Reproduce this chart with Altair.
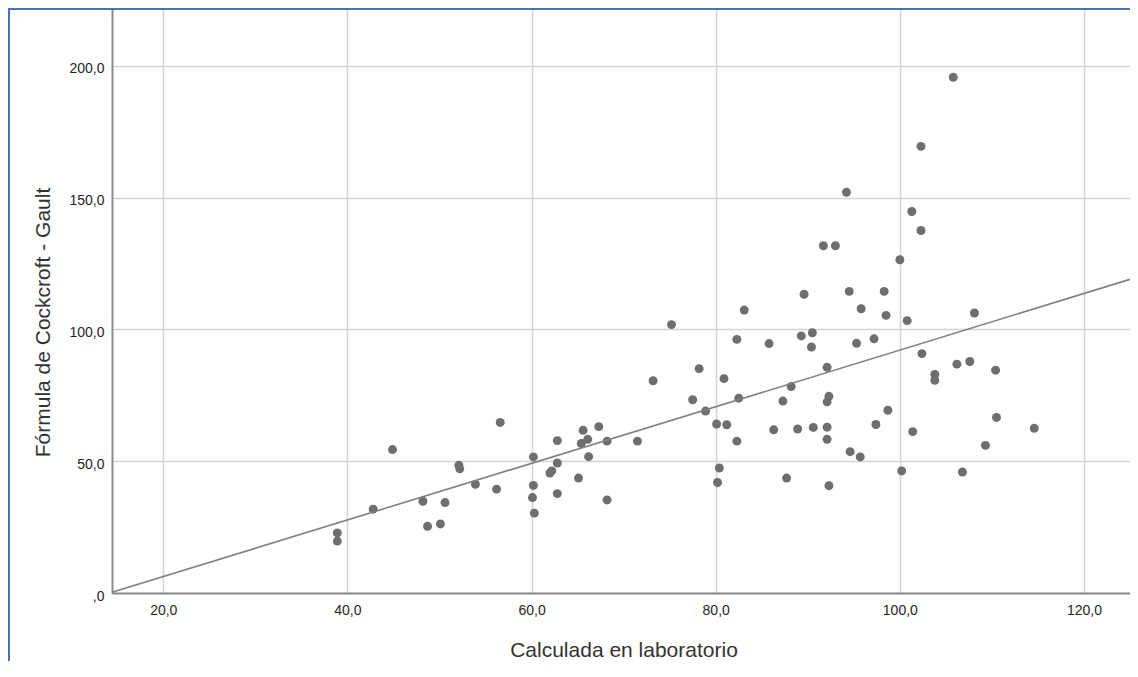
import altair as alt
import pandas as pd

# Values
lab = [38.9, 38.9, 42.8, 44.9, 48.2, 48.7, 50.1, 50.6, 52.1, 52.2, 53.9, 56.2, 56.6,
       60.2, 60.2, 60.1, 60.3, 62.8, 62.8, 62.0, 62.2, 62.8,
       82.3, 85.8, 89.3, 90.5, 90.4, 78.2, 73.2, 80.9, 77.5, 82.5, 88.2, 87.3, 78.9,
       80.1, 81.2, 82.3, 86.3, 88.9, 90.6, 65.6, 67.3, 66.1, 65.4, 68.2, 71.5, 66.2,
       65.1, 68.2, 80.4, 80.2, 87.7,
       95.3, 97.2, 92.1, 102.4, 106.2, 107.6, 110.4, 103.8, 103.8, 92.3, 92.1, 98.7,
       97.4, 92.1, 92.1, 101.4, 110.5, 114.6, 109.3, 94.6, 95.7, 100.2, 106.8, 92.3,
       75.2, 83.1, 89.6,
       94.2, 101.3, 102.3, 91.7, 93.0, 100.0, 94.5, 98.3, 95.8, 98.5, 100.8, 108.1,
       105.8, 102.3]
cg = [22.8, 19.7, 31.8, 54.4, 34.8, 25.3, 26.2, 34.3, 48.5, 47.1, 41.2, 39.4, 64.7,
      51.6, 40.8, 36.2, 30.3, 57.8, 49.3, 45.5, 46.3, 37.7,
      96.2, 94.6, 97.5, 98.7, 93.3, 85.1, 80.5, 81.3, 73.3, 73.9, 78.3, 72.8, 69.0,
      64.1, 63.8, 57.6, 61.9, 62.2, 62.8, 61.7, 63.1, 58.3, 56.7, 57.6, 57.6, 51.7,
      43.6, 35.3, 47.4, 41.9, 43.6,
      94.7, 96.4, 85.6, 90.8, 86.8, 87.8, 84.5, 82.9, 80.7, 74.6, 72.5, 69.3,
      63.9, 62.9, 58.3, 61.2, 66.6, 62.5, 56.0, 53.6, 51.6, 46.3, 45.9, 40.7,
      101.8, 107.3, 113.3,
      152.0, 144.7, 137.5, 131.7, 131.7, 126.4, 114.4, 114.4, 107.8, 105.3, 103.3, 106.2,
      195.6, 169.4]

x_ticks = [20, 40, 60, 80, 100, 120]
y_ticks = [0, 50, 100, 150, 200]
x_title = "Calculada en laboratorio"
y_title = "Fórmula de Cockcroft - Gault"

x_domain = [14.43, 125.0]
y_domain = [0, 221.5]

df = pd.DataFrame({"lab": lab, "cg": cg})

FONT = "Liberation Sans, Arial, sans-serif"
label_expr = "datum.value == 0 ? ',0' : replace(format(datum.value, '.1f'), '.', ',')"

xscale = alt.Scale(domain=x_domain, nice=False, zero=False)
yscale = alt.Scale(domain=y_domain, nice=False, zero=False)

xaxis = alt.Axis(values=x_ticks, labelExpr=label_expr, title=x_title, ticks=False,
                 labelPadding=10, labelFontSize=14, labelColor="#262626", labelFont=FONT,
                 titleFont=FONT, titleFontSize=21, titleFontWeight="normal", titleColor="#333333",
                 titleBaseline="alphabetic", titleY=63.5, titleX=511.5,
                 domainColor="#8c8c8c", domainWidth=2, gridColor="#d4d4d4", gridWidth=1.5)
yaxis = alt.Axis(values=y_ticks, labelExpr=label_expr, title=y_title, ticks=False,
                 labelPadding=8, labelFontSize=14, labelColor="#262626", labelFont=FONT,
                 labelOffset=3,
                 titleFont=FONT, titleFontSize=21, titleFontWeight="normal", titleColor="#333333",
                 titleBaseline="alphabetic", titleX=-63, titleY=313, titleAngle=-90,
                 domainColor="#8c8c8c", domainWidth=2, gridColor="#d4d4d4", gridWidth=1.5)

points = alt.Chart(df).mark_circle(size=80, color="#6e6e6e", opacity=1).encode(
    x=alt.X("lab:Q", scale=xscale, axis=xaxis),
    y=alt.Y("cg:Q", scale=yscale, axis=yaxis),
)

fit = alt.Chart(df).transform_regression(
    "lab", "cg", extent=x_domain
).mark_line(color="#7f7f7f", strokeWidth=1.6).encode(
    x=alt.X("lab:Q", scale=xscale),
    y=alt.Y("cg:Q", scale=yscale),
)

frame_left = alt.Chart(df).mark_rule(color="#4472c4", strokeWidth=2).encode(
    x=alt.value(-103), y=alt.value(-0.5), y2=alt.value(700)
)
frame_top = alt.Chart(df).mark_rule(color="#4472c4", strokeWidth=2).encode(
    x=alt.value(-104), x2=alt.value(1020), y=alt.value(-0.5)
)

chart = alt.layer(points, fit, frame_left, frame_top).properties(
    width=1018, height=584,
    autosize=alt.AutoSizeParams(type="none"),
    padding={"left": 104, "top": 1, "right": 0, "bottom": 68},
    background="white",
).configure_view(stroke=None)

chart.save("out.html", embed_options={"renderer": "svg", "actions": False})
